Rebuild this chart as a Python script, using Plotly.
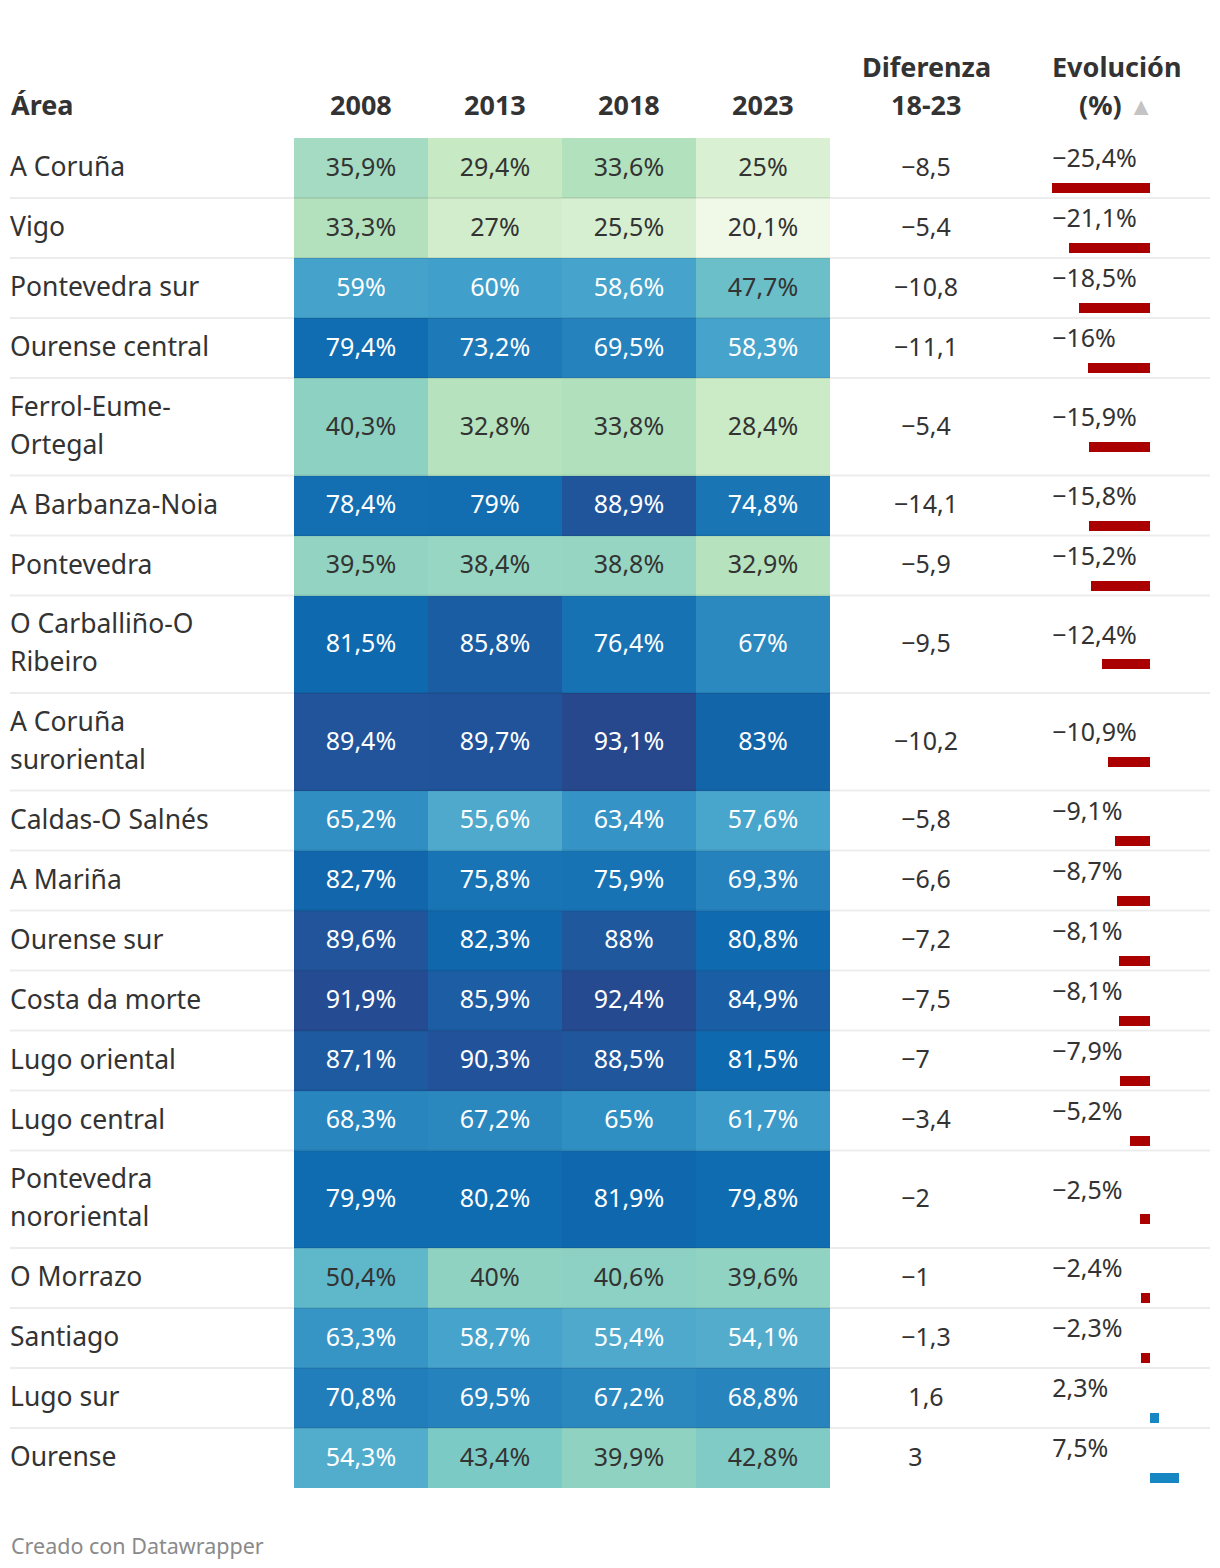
import plotly.graph_objects as go

# ---------------- data ----------------
areas = ["A Coruña", "Vigo", "Pontevedra sur", "Ourense central", "Ferrol-Eume-\nOrtegal",
         "A Barbanza-Noia", "Pontevedra", "O Carballiño-O\nRibeiro", "A Coruña\nsuroriental",
         "Caldas-O Salnés", "A Mariña", "Ourense sur", "Costa da morte", "Lugo oriental",
         "Lugo central", "Pontevedra\nnororiental", "O Morrazo", "Santiago", "Lugo sur", "Ourense"]
years = ["2008", "2013", "2018", "2023"]
v2008 = [35.9, 33.3, 59, 79.4, 40.3, 78.4, 39.5, 81.5, 89.4, 65.2, 82.7, 89.6, 91.9, 87.1, 68.3, 79.9, 50.4, 63.3, 70.8, 54.3]
v2013 = [29.4, 27, 60, 73.2, 32.8, 79, 38.4, 85.8, 89.7, 55.6, 75.8, 82.3, 85.9, 90.3, 67.2, 80.2, 40, 58.7, 69.5, 43.4]
v2018 = [33.6, 25.5, 58.6, 69.5, 33.8, 88.9, 38.8, 76.4, 93.1, 63.4, 75.9, 88, 92.4, 88.5, 65, 81.9, 40.6, 55.4, 67.2, 39.9]
v2023 = [25, 20.1, 47.7, 58.3, 28.4, 74.8, 32.9, 67, 83, 57.6, 69.3, 80.8, 84.9, 81.5, 61.7, 79.8, 39.6, 54.1, 68.8, 42.8]
diferenza = [-8.5, -5.4, -10.8, -11.1, -5.4, -14.1, -5.9, -9.5, -10.2, -5.8, -6.6, -7.2, -7.5, -7, -3.4, -2, -1, -1.3, 1.6, 3]
evolucion = [-25.4, -21.1, -18.5, -16, -15.9, -15.8, -15.2, -12.4, -10.9, -9.1, -8.7, -8.1, -8.1, -7.9, -5.2, -2.5, -2.4, -2.3, 2.3, 7.5]

# ---------------- layout constants ----------------
W, H = 1220, 1568
FONT = "Noto Sans"
TXT = "#333333"
LABEL_SIZE = 26.5
NUM_SIZE = 25
col_edges = [294, 428, 562, 696, 830]
TOP = 138
H1, H2 = 60, 97.5
LINE_GAP = 19
DY = 1.5
DIF_X = 926
EV_DOMAIN = (1020, 1210)
EV_ZERO = 1150
EV_PX = 3.85

values = [v2008, v2013, v2018, v2023]
n = len(areas)

bounds = [TOP]
for a in areas:
    bounds.append(bounds[-1] + (H2 if "\n" in a else H1))
centers = [(bounds[i] + bounds[i + 1]) / 2 for i in range(n)]
col_centers = [(col_edges[j] + col_edges[j + 1]) / 2 for j in range(4)]

ZMIN, ZMAX = 20.0, 93.1
stops = [(20, "#f0f9e8"), (25, "#d9f0d3"), (30, "#c4e8c2"), (34, "#b0e0bc"), (36, "#a3dbc2"),
         (40, "#8fd2c2"), (44, "#79c8c6"), (48, "#69bec9"), (51, "#5db5ca"), (55, "#50aacd"),
         (60, "#41a0cb"), (65, "#308fc2"), (70, "#2480bc"), (75, "#1a75b5"), (80, "#106cb0"),
         (82, "#0f68ad"), (85, "#1a5fa5"), (88, "#1f589d"), (90.5, "#22519a"), (93.1, "#27488c")]
colorscale = [[(v - ZMIN) / (ZMAX - ZMIN), c] for v, c in stops]


def fmt(v):
    s = f"{v:.1f}"
    if s.endswith(".0"):
        s = s[:-2]
    return s.replace(".", ",").replace("-", "\u2212")


fig = go.Figure()

# heatmap cells
z = [[values[j][i] for j in range(4)] for i in range(n)]
fig.add_trace(go.Heatmap(z=z, x=col_edges, y=bounds, colorscale=colorscale, zmin=ZMIN, zmax=ZMAX,
                         showscale=False, hoverinfo="skip", xgap=0, ygap=0))

# cell texts
cx, cy, ct, cc = [], [], [], []
for i in range(n):
    for j in range(4):
        v = values[j][i]
        cx.append(col_centers[j]); cy.append(centers[i] + DY); ct.append(fmt(v) + "%")
        cc.append("#ffffff" if v >= 52 else TXT)
fig.add_trace(go.Scatter(x=cx, y=cy, text=ct, mode="text", textposition="middle center",
                         textfont=dict(family=FONT, size=NUM_SIZE, color=cc), hoverinfo="skip", showlegend=False))

# area labels (each line separately)
ax, ay, at = [], [], []
for i, a in enumerate(areas):
    parts = a.split("\n")
    if len(parts) == 1:
        ax.append(10); ay.append(centers[i] + DY); at.append(parts[0])
    else:
        ax += [10, 10]; ay += [centers[i] - LINE_GAP + DY, centers[i] + LINE_GAP + DY]; at += parts
fig.add_trace(go.Scatter(x=ax, y=ay, text=at, mode="text", textposition="middle right",
                         textfont=dict(family=FONT, size=LABEL_SIZE, color=TXT), hoverinfo="skip", showlegend=False))

# diferenza column (hidden decimals keep alignment)
dt = []
for d in diferenza:
    s = fmt(d)
    if "," not in s:
        s += "<span style='color:rgba(0,0,0,0)'>,0</span>"
    dt.append(s)
fig.add_trace(go.Scatter(x=[DIF_X] * n, y=[c + DY for c in centers], text=dt, mode="text",
                         textposition="middle center",
                         textfont=dict(family=FONT, size=NUM_SIZE, color=TXT), hoverinfo="skip", showlegend=False))

# evolución bars + labels on a secondary x axis
ev_lo = -(EV_ZERO - EV_DOMAIN[0]) / EV_PX
ev_hi = (EV_DOMAIN[1] - EV_ZERO) / EV_PX
fig.add_trace(go.Bar(x=evolucion, y=[c + 20 for c in centers], orientation="h", width=10,
                     marker=dict(color=["#aa0000" if v < 0 else "#1787c3" for v in evolucion], line_width=0),
                     xaxis="x2", yaxis="y", hoverinfo="skip", showlegend=False))
fig.add_trace(go.Scatter(x=[min(evolucion)] * n, y=[c - 7 for c in centers],
                         text=[fmt(v) + "%" for v in evolucion], mode="text", textposition="middle right",
                         textfont=dict(family=FONT, size=NUM_SIZE, color=TXT), xaxis="x2", yaxis="y",
                         hoverinfo="skip", showlegend=False))

# row separators
shapes = []
for b in bounds[1:-1]:
    shapes.append(dict(type="line", xref="x", yref="y", x0=10, x1=1210, y0=b, y1=b,
                       line=dict(color="rgba(0,0,0,0.075)", width=2), layer="above"))

# headers
hfont = dict(family=FONT, size=27, color=TXT)
ann = [dict(x=9, y=104, text="<b>Área</b>", xanchor="left")]
for j, yr in enumerate(years):
    ann.append(dict(x=col_centers[j], y=104, text=f"<b>{yr}</b>", xanchor="center"))
ann += [dict(x=DIF_X, y=66, text="<b>Diferenza</b>", xanchor="center"),
        dict(x=DIF_X, y=104, text="<b>18-23</b>", xanchor="center"),
        dict(x=1116, y=66, text="<b>Evolución</b>", xanchor="center"),
        dict(x=1116, y=104, text="<b>(%)</b> <span style='color:#c4c4c4;font-size:25px'>▲</span>", xanchor="center")]
for a in ann:
    a.update(xref="x", yref="y", yanchor="middle", showarrow=False, font=hfont)
ann.append(dict(x=9, y=1545, xref="x", yref="y", text="Creado con Datawrapper", xanchor="left",
                yanchor="middle", showarrow=False, font=dict(family=FONT, size=21.5, color="#8a8a8a")))

fig.update_layout(
    width=W, height=H, margin=dict(l=0, r=0, t=0, b=0),
    paper_bgcolor="white", plot_bgcolor="white", showlegend=False,
    xaxis=dict(range=[0, W], visible=False, fixedrange=True),
    xaxis2=dict(range=[ev_lo, ev_hi], domain=[EV_DOMAIN[0] / W, EV_DOMAIN[1] / W], anchor="y",
                visible=False, fixedrange=True),
    yaxis=dict(range=[H, 0], visible=False, fixedrange=True),
    shapes=shapes, annotations=ann, bargap=0,
)

fig.write_html("out.html", config={"displayModeBar": False, "staticPlot": True},
               post_script="document.body.style.margin='0';")
